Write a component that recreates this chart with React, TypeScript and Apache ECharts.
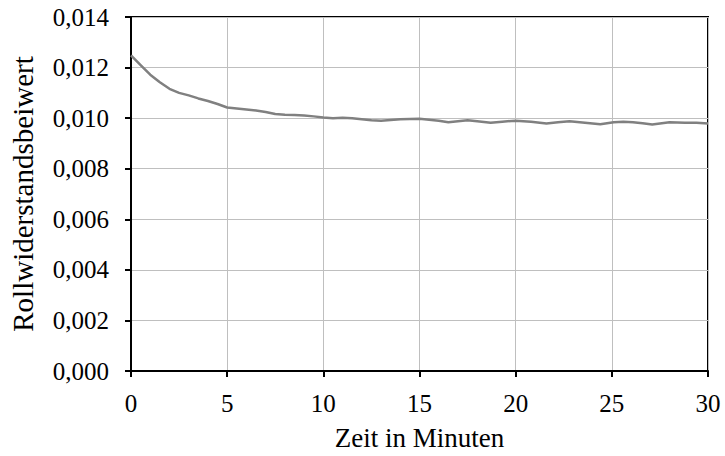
import React, { useEffect, useRef } from "react";
import * as echarts from "echarts";

// Zeit in Minuten
const zeit: number[] = [
  0, 0.5, 1, 1.5, 2, 2.5, 3, 3.5, 4, 4.5, 5, 5.5, 6, 6.5, 7, 7.5, 8, 8.5, 9,
  9.5, 10, 10.5, 11, 11.5, 12, 12.5, 13, 13.5, 14, 15, 16, 16.5, 17, 17.5, 18,
  18.7, 19.3, 20, 20.8, 21.6, 22.2, 22.8, 23.6, 24.4, 25.1, 25.6, 26.1, 26.6,
  27.1, 27.6, 28, 28.8, 29.4, 30,
];

// Rollwiderstandsbeiwert
const beiwert: number[] = [
  0.01248, 0.0121, 0.01172, 0.01142, 0.01116, 0.011, 0.0109, 0.01078, 0.01068,
  0.01056, 0.01042, 0.01038, 0.01034, 0.0103, 0.01024, 0.01016, 0.01013,
  0.01012, 0.0101, 0.01007, 0.01003, 0.01, 0.01002, 0.01, 0.00996, 0.00992,
  0.0099, 0.00993, 0.00996, 0.00998, 0.0099, 0.00984, 0.00988, 0.00992,
  0.00988, 0.00982, 0.00986, 0.0099, 0.00986, 0.00979, 0.00984, 0.00988,
  0.00982, 0.00976, 0.00984, 0.00986, 0.00984, 0.0098, 0.00975, 0.0098,
  0.00984, 0.00982, 0.00982, 0.00979,
];

const FONT = "Liberation Serif";

export default function App() {
  const ref = useRef<HTMLDivElement>(null);

  useEffect(() => {
    if (!ref.current) return;
    const chart = echarts.init(ref.current, null, { renderer: "svg" });
    chart.setOption({
      animation: false,
      backgroundColor: "#ffffff",
      grid: {
        left: 130,
        right: 17,
        top: 17,
        bottom: 83,
        show: true,
        borderColor: "#000000",
        borderWidth: 2,
      },
      xAxis: {
        type: "value",
        min: 0,
        max: 30,
        interval: 5,
        name: "Zeit in Minuten",
        nameLocation: "middle",
        nameGap: 53,
        nameTextStyle: { fontFamily: FONT, fontSize: 27, color: "#000" },
        axisLine: { show: true, lineStyle: { color: "#000", width: 2 } },
        axisTick: { show: true, inside: false, length: 6, lineStyle: { color: "#000", width: 2 } },
        axisLabel: { fontFamily: FONT, fontSize: 25, color: "#000", margin: 20 },
        splitLine: { show: true, lineStyle: { color: "#bfbfbf", width: 1 } },
      },
      yAxis: {
        type: "value",
        min: 0,
        max: 0.014,
        interval: 0.002,
        name: "Rollwiderstandsbeiwert",
        nameLocation: "middle",
        nameGap: 94,
        nameTextStyle: { fontFamily: FONT, fontSize: 29, color: "#000" },
        axisLine: { show: true, lineStyle: { color: "#000", width: 2 } },
        axisTick: { show: true, inside: false, length: 6, lineStyle: { color: "#000", width: 2 } },
        axisLabel: {
          fontFamily: FONT,
          fontSize: 25,
          color: "#000",
          margin: 22,
          formatter: (v: number) => v.toFixed(3).replace(".", ","),
        },
        splitLine: { show: true, lineStyle: { color: "#bfbfbf", width: 1 } },
      },
      series: [
        {
          type: "line",
          data: zeit.map((t, i) => [t, beiwert[i]]),
          showSymbol: false,
          smooth: false,
          lineStyle: { color: "#808080", width: 2.5 },
        },
      ],
    });
    return () => chart.dispose();
  }, []);

  return (
    <div
      ref={ref}
      style={{ position: "fixed", left: 0, top: 0, width: 725, height: 456 }}
    />
  );
}
